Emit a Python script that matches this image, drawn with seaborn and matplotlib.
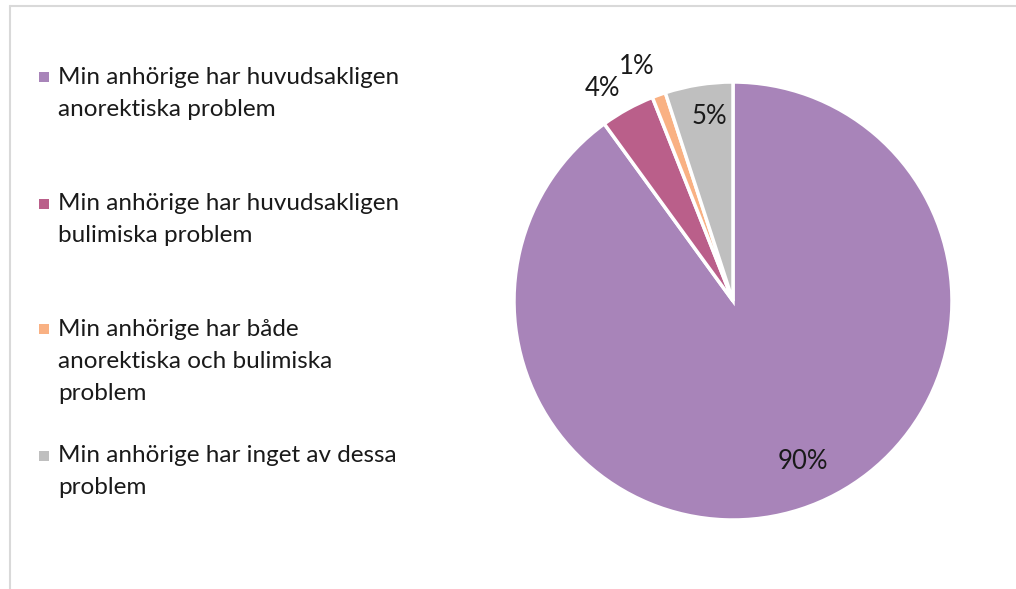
import numpy as np
import matplotlib
matplotlib.use('Agg')
import matplotlib.pyplot as plt
from matplotlib.patches import Rectangle
from matplotlib.lines import Line2D
import seaborn as sns

labels = ['Min anhörige har huvudsakligen\nanorektiska problem',
          'Min anhörige har huvudsakligen\nbulimiska problem',
          'Min anhörige har både\nanorektiska och bulimiska\nproblem',
          'Min anhörige har inget av dessa\nproblem']
values = [90, 4, 1, 5]
colours = ['#A884B9', '#BA5F8A', '#F9B183', '#BFBFBF']
# where each percentage label sits: distance (radii) and angle nudge (deg)
label_radius = [0.80, 1.14, 1.16, 0.85]
label_nudge = [5.4, 2.8, 2.6, -1.6]

W, H = 1016, 589
sns.set_theme(style='white')
plt.rcParams['font.family'] = ['Lato', 'DejaVu Sans']
FS = 17.5

fig = plt.figure(figsize=(W / 100, H / 100), dpi=100)
fig.patch.set_facecolor('white')


def fx(px):
    return px / W


def fy(py):
    return 1 - py / H


# pie, centre (733, 301) radius 219 in pixels
cx, cy, r = 733, 301, 219
ax = fig.add_axes([fx(cx - r), fy(cy + r), 2 * r / W, 2 * r / H])
palette = sns.color_palette(colours)
wedges, _ = ax.pie(values, colors=palette, startangle=90, counterclock=False,
                   wedgeprops=dict(edgecolor='white', linewidth=2.5))
ax.set_xlim(-1, 1)
ax.set_ylim(-1, 1)
ax.set_aspect('equal')
ax.axis('off')

for w, v, lr, nd in zip(wedges, values, label_radius, label_nudge):
    mid = np.deg2rad((w.theta1 + w.theta2) / 2 + nd)
    ax.text(lr * np.cos(mid), lr * np.sin(mid), f'{v}%', ha='center', va='center',
            fontsize=18.5, color='#1a1a1a')

# legend drawn by hand so entries are evenly spaced
first_line_y = [77, 204, 329, 456]
line_h = 32
for lab, col, y0 in zip(labels, palette, first_line_y):
    fig.patches.append(Rectangle((fx(39), fy(y0 + 5)), 10 / W, 10 / H, transform=fig.transFigure,
                                 facecolor=col, edgecolor='none'))
    for i, line in enumerate(lab.split('\n')):
        fig.text(fx(58), fy(y0 + i * line_h), line, ha='left', va='center',
                 fontsize=FS, color='#1a1a1a')

# chart frame
fig.add_artist(Line2D([fx(9.5), 1], [fy(5.5), fy(5.5)], transform=fig.transFigure,
                      color='#D9D9D9', linewidth=1.5))
fig.add_artist(Line2D([fx(9.5), fx(9.5)], [fy(5.5), 0], transform=fig.transFigure,
                      color='#D9D9D9', linewidth=1.5))

fig.savefig('out.png', dpi=100)
